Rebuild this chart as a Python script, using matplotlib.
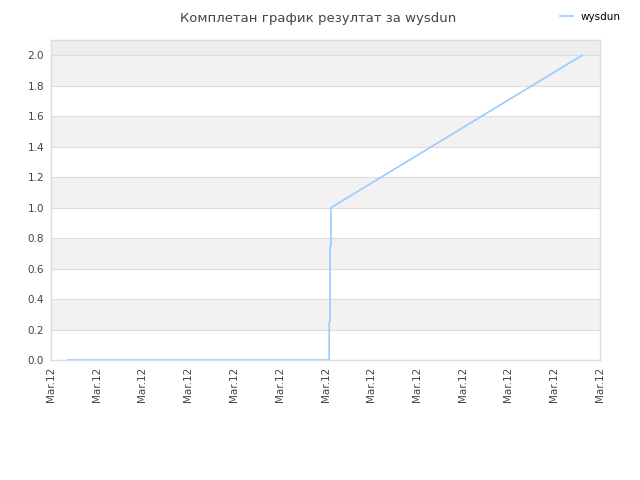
import matplotlib.pyplot as plt

# data in axis units (13 ticks, all labelled "Mar.12")
x_vals = [0.37, 6.08, 6.08, 6.10, 6.10, 6.12, 6.12, 11.61]
y_vals = [0.0, 0.0, 0.25, 0.25, 0.75, 0.75, 1.0, 2.0]
tick_pos = list(range(13))
tick_labels = ['Mar.12'] * 13
y_ticks = [0.0, 0.2, 0.4, 0.6, 0.8, 1.0, 1.2, 1.4, 1.6, 1.8, 2.0]

fig = plt.figure(figsize=(6.4, 4.8), dpi=100)
ax = fig.add_axes([51/640, 120/480, 549/640, 320/480])

# alternating bands
for i in range(len(y_ticks) - 1):
    if i % 2 == 1:
        ax.axhspan(y_ticks[i], y_ticks[i+1], color='#f2f2f2', lw=0, zorder=0)
ax.axhspan(2.0, 2.1, color='#eeeeee', lw=0, zorder=0)
for y in y_ticks[1:]:
    ax.axhline(y, color='#dddddd', lw=0.8, zorder=1)

ax.plot(x_vals, y_vals, color='#99ccff', lw=1.2, label='wysdun', zorder=3)

ax.set_xlim(0, 12)
ax.set_ylim(0, 2.1)
ax.set_xticks(tick_pos)
ax.set_xticklabels(tick_labels, rotation=90, fontsize=7.5, color='#444444')
ax.set_yticks(y_ticks)
ax.set_yticklabels(['%.1f' % v for v in y_ticks], fontsize=7.5, color='#444444')
ax.tick_params(length=0, pad=5)
for s in ax.spines.values():
    s.set_color('#dddddd')
    s.set_linewidth(1)

fig.text(0.497, 0.975, 'Комплетан график резултат за wysdun', ha='center', va='top',
         fontsize=9.5, color='#444444')
fig.legend(loc='upper right', bbox_to_anchor=(0.985, 0.995), frameon=False,
           fontsize=7.5, handlelength=1.2, handletextpad=0.8)

fig.savefig('out.png', dpi=100, facecolor='white')
